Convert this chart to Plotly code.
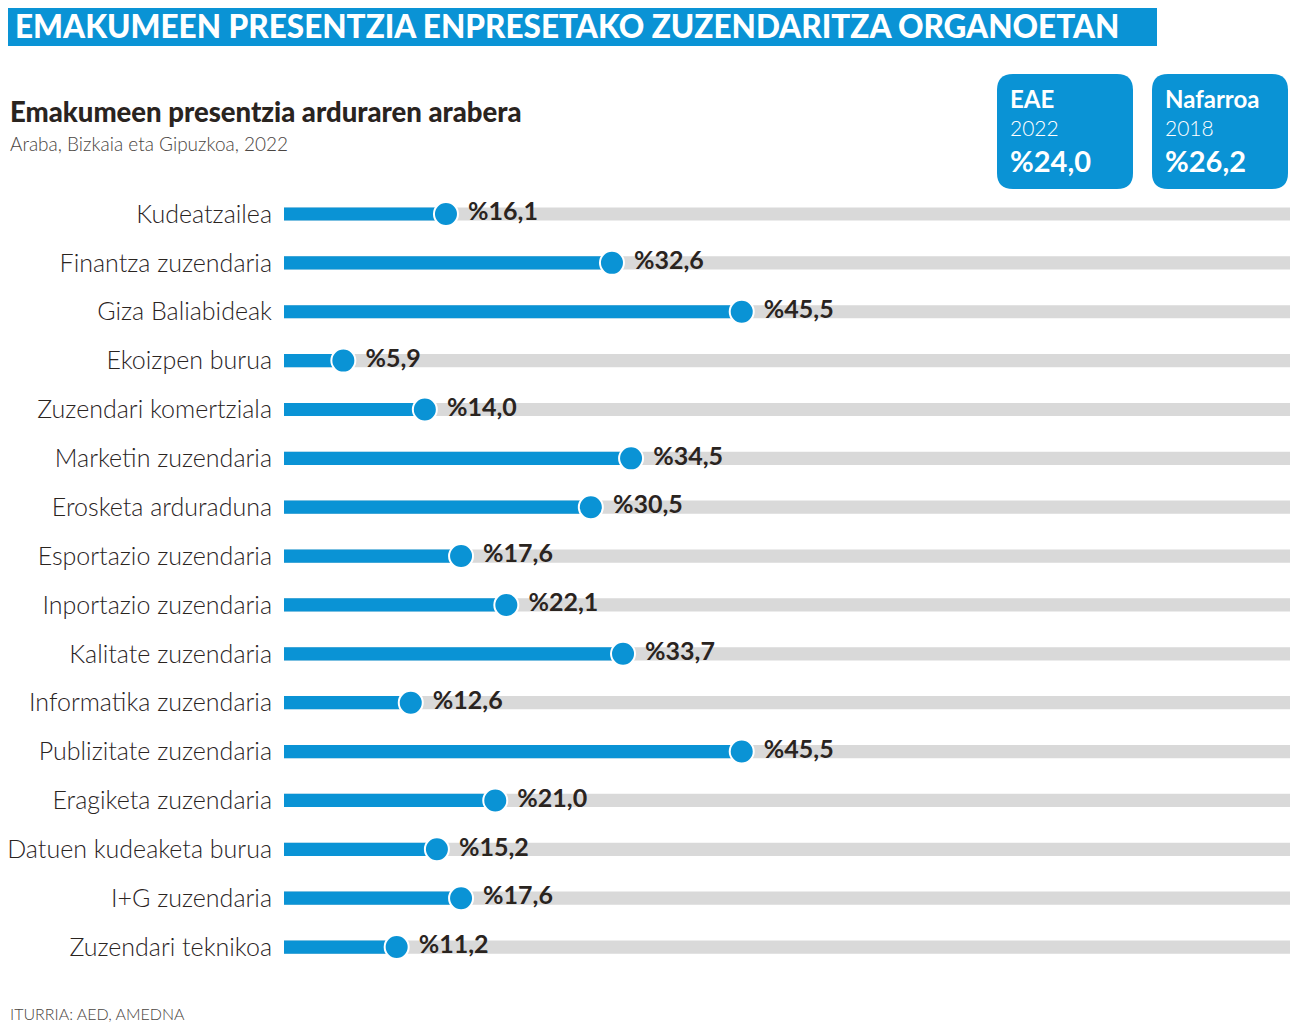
import plotly.graph_objects as go

categories = ["Kudeatzailea", "Finantza zuzendaria", "Giza Baliabideak", "Ekoizpen burua",
              "Zuzendari komertziala", "Marketin zuzendaria", "Erosketa arduraduna",
              "Esportazio zuzendaria", "Inportazio zuzendaria", "Kalitate zuzendaria",
              "Informatika zuzendaria", "Publizitate zuzendaria", "Eragiketa zuzendaria",
              "Datuen kudeaketa burua", "I+G zuzendaria", "Zuzendari teknikoa"]
values = [16.1, 32.6, 45.5, 5.9, 14.0, 34.5, 30.5, 17.6, 22.1, 33.7, 12.6, 45.5, 21.0, 15.2, 17.6, 11.2]
track_max = 100

box_regions = ["EAE", "Nafarroa"]
box_years = ["2022", "2018"]
box_values = [24.0, 26.2]

OFF = 8  # page body margin
W, H = 1300 - OFF, 1025 - OFF
BLUE = "#0a93d5"
DARK = "#2a241f"

def fmt(v):
    return "%" + f"{v:.1f}".replace(".", ",")

def px(x):
    return (x - OFF) / W

def py(y):
    return 1 - (y - OFF) / H

idx = list(range(len(categories)))
row0, step = 214 - OFF, 48.87

fig = go.Figure()
fig.add_trace(go.Bar(y=idx, x=[track_max] * len(idx), base=0, orientation="h",
                     marker=dict(color="#d9d9d9", line=dict(width=0)), width=0.27,
                     hoverinfo="skip", showlegend=False))
fig.add_trace(go.Bar(y=idx, x=values, base=0, orientation="h",
                     marker=dict(color=BLUE, line=dict(width=0)), width=0.27,
                     hoverinfo="skip", showlegend=False))
fig.add_trace(go.Scatter(y=idx, x=values, mode="markers+text",
                         marker=dict(size=24, color=BLUE, line=dict(color="white", width=2)),
                         text=[" " + fmt(v) for v in values], textposition="middle right",
                         textfont=dict(family="Lato", size=25, color=DARK, weight="bold"),
                         showlegend=False, cliponaxis=False))

y_top = -row0 / step
y_bot = (H - row0) / step
fig.update_layout(
    width=W, height=H, margin=dict(l=0, r=0, t=0, b=0),
    paper_bgcolor="white", plot_bgcolor="white", barmode="overlay",
    xaxis=dict(domain=[px(284), px(1290)], range=[0, 100], visible=False, fixedrange=True),
    yaxis=dict(domain=[0, 1], range=[y_bot, y_top], tickvals=idx, ticktext=categories,
               showgrid=False, zeroline=False, showline=False, ticks="",
               ticklabelstandoff=11,
               tickfont=dict(family="Lato", size=25, color=DARK, weight=300)),
)

shapes = []
shapes.append(dict(type="rect", xref="paper", yref="paper", x0=px(0), x1=px(1157), y0=py(46), y1=py(0),
                   fillcolor=BLUE, line=dict(width=0), layer="below"))

def rounded(x0, y0, x1, y1, r):
    pts = [f"M {px(x0 + r)},{py(y0)}", f"L {px(x1 - r)},{py(y0)}",
           f"Q {px(x1)},{py(y0)} {px(x1)},{py(y0 + r)}", f"L {px(x1)},{py(y1 - r)}",
           f"Q {px(x1)},{py(y1)} {px(x1 - r)},{py(y1)}", f"L {px(x0 + r)},{py(y1)}",
           f"Q {px(x0)},{py(y1)} {px(x0)},{py(y1 - r)}", f"L {px(x0)},{py(y0 + r)}",
           f"Q {px(x0)},{py(y0)} {px(x0 + r)},{py(y0)}", "Z"]
    return " ".join(pts)

box_x = [997, 1152]
for bx in box_x:
    shapes.append(dict(type="path", xref="paper", yref="paper", path=rounded(bx, 74, bx + 136, 189, 16),
                       fillcolor=BLUE, line=dict(width=0), layer="below"))

annotations = []
annotations.append(dict(text="EMAKUMEEN PRESENTZIA ENPRESETAKO ZUZENDARITZA ORGANOETAN",
                        x=px(13), y=py(9), xref="paper", yref="paper", xanchor="left", yanchor="top",
                        height=30, valign="middle",
                        showarrow=False, font=dict(family="Lato", size=31.5, color="white", weight=900)))
annotations.append(dict(text="Emakumeen presentzia arduraren arabera", x=px(8), y=py(111),
                        xref="paper", yref="paper", xanchor="left", yanchor="middle", showarrow=False,
                        font=dict(family="Lato", size=27.5, color=DARK, weight=900)))
annotations.append(dict(text="Araba, Bizkaia eta Gipuzkoa, 2022", x=px(8), y=py(144),
                        xref="paper", yref="paper", xanchor="left", yanchor="middle", showarrow=False,
                        font=dict(family="Lato", size=19, color="#4a4541", weight=300)))
annotations.append(dict(text="ITURRIA: AED, AMEDNA", x=px(8), y=py(1013),
                        xref="paper", yref="paper", xanchor="left", yanchor="middle", showarrow=False,
                        font=dict(family="Lato", size=16, color="#4a4541", weight=300)))

for bx, reg, yr, v in zip(box_x, box_regions, box_years, box_values):
    annotations.append(dict(text=reg, x=px(bx + 11), y=py(98), xref="paper", yref="paper",
                            xanchor="left", yanchor="middle", showarrow=False,
                            font=dict(family="Lato", size=24, color="white", weight="bold")))
    annotations.append(dict(text=yr, x=px(bx + 11), y=py(127), xref="paper", yref="paper",
                            xanchor="left", yanchor="middle", showarrow=False,
                            font=dict(family="Lato", size=21, color="white", weight=300)))
    annotations.append(dict(text=fmt(v), x=px(bx + 11), y=py(160), xref="paper", yref="paper",
                            xanchor="left", yanchor="middle", showarrow=False,
                            font=dict(family="Lato", size=29, color="white", weight="bold")))

fig.update_layout(shapes=shapes, annotations=annotations)
fig.write_html("out.html")
